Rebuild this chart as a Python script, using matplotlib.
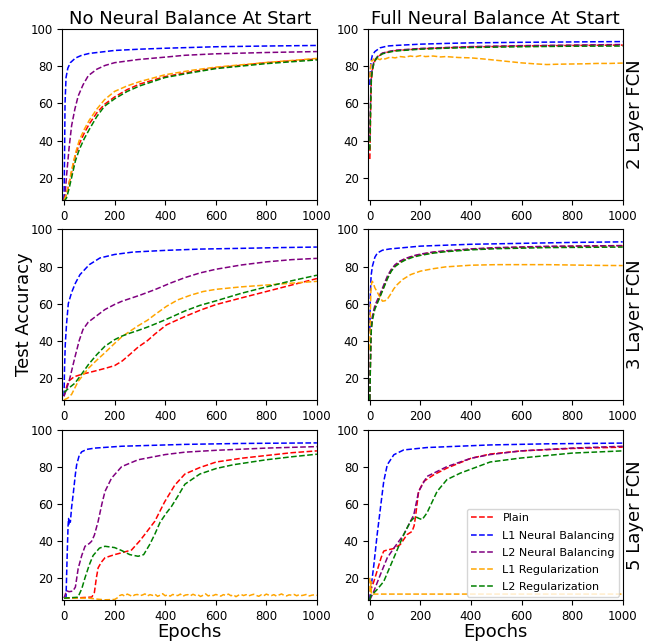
import numpy as np
import matplotlib
matplotlib.use("Agg")
import matplotlib.pyplot as plt

# series names / colours (same order in every panel)
labels = ["Plain", "L1 Neural Balancing", "L2 Neural Balancing",
          "L1 Regularization", "L2 Regularization"]
colors = ["red", "blue", "purple", "orange", "green"]

col_titles = ["No Neural Balance At Start", "Full Neural Balance At Start"]
row_titles = ["2 Layer FCN", "3 Layer FCN", "5 Layer FCN"]

# ---- 2 layer, no balance  (epoch, test accuracy)
a_plain = [(0, 8), (10, 11), (20, 17), (30, 23), (45, 32), (60, 38), (80, 44), (100, 49),
           (130, 55), (160, 59.5), (200, 63.5), (250, 67.5), (300, 70.5), (400, 74.5),
           (500, 77), (600, 79.2), (800, 82), (1000, 84)]
a_l1nb = [(0, 8), (2, 30), (4, 60), (8, 74), (15, 79), (25, 82), (45, 84.5), (70, 86),
          (100, 87), (200, 88.6), (300, 89.3), (400, 89.8), (600, 90.6), (800, 91), (1000, 91.3)]
a_l2nb = [(0, 8), (5, 12), (10, 21), (20, 36), (30, 48), (43, 57), (56, 64), (75, 70),
          (96, 75), (130, 78.5), (162, 80.5), (200, 82), (293, 83.7), (400, 85), (478, 86),
          (600, 86.8), (800, 87.5), (1000, 88)]
a_l1reg = [(0, 8), (10, 11), (20, 17), (30, 24), (45, 33), (60, 40), (80, 46), (100, 51),
           (130, 57), (160, 62), (200, 66.5), (250, 69.5), (300, 71.8), (400, 75.5),
           (500, 77.8), (600, 79.6), (800, 82.1), (1000, 84.3)]
a_l2reg = [(0, 7), (10, 9), (20, 14), (30, 20), (45, 29), (60, 35), (80, 41), (100, 46),
           (130, 53), (160, 58.5), (200, 62.5), (250, 66.5), (300, 69.5), (400, 74),
           (500, 76.5), (600, 78.8), (800, 81.5), (1000, 83.5)]

# ---- 2 layer, full balance
b_plain = [(0, 30), (2, 45), (4, 62), (6, 72), (10, 78), (15, 81), (20, 83), (30, 85),
           (50, 87), (80, 88), (100, 88.5), (200, 89.5), (300, 90), (400, 90.5), (600, 91),
           (800, 91.3), (1000, 91.5)]
b_l1nb = [(0, 70), (2, 78), (5, 83), (10, 86), (20, 88), (40, 90), (70, 91), (100, 91.3),
          (200, 92), (300, 92.4), (400, 92.7), (600, 93), (800, 93.2), (1000, 93.4)]
b_l2nb = [(0, 40), (2, 55), (4, 68), (6, 75), (10, 79), (15, 82), (20, 83.5), (30, 85.3),
          (50, 87.2), (80, 88.2), (100, 88.7), (200, 89.7), (300, 90.2), (400, 90.7),
          (600, 91.2), (800, 91.5), (1000, 91.8)]
b_l1reg = [(0, 74), (3, 80), (6, 83), (10, 83), (15, 84), (20, 83.3), (30, 84.2), (40, 83.6),
           (50, 84.5), (60, 84), (80, 85), (100, 84.6), (120, 85.3), (140, 85.0), (160, 85.6),
           (180, 85.2), (200, 85.8), (220, 85.3), (250, 85.6), (280, 85.1), (300, 85.3),
           (350, 84.8), (400, 84.6), (450, 84.0), (500, 83.3), (550, 82.6), (600, 81.9),
           (650, 81.4), (700, 81.0), (750, 81.2), (800, 81.3), (850, 81.4), (900, 81.6),
           (950, 81.6), (1000, 81.8)]
b_l2reg = [(0, 35), (2, 50), (4, 64), (6, 73), (10, 78), (15, 81), (20, 83), (30, 85),
           (50, 86.8), (80, 87.8), (100, 88.3), (200, 89.3), (300, 89.8), (400, 90.2),
           (600, 90.6), (800, 90.9), (1000, 91)]

# ---- 3 layer, no balance
c_plain = [(0, 10), (10, 15), (17, 18), (40, 20.5), (70, 21.8), (120, 23.5), (162, 25),
           (200, 26.5), (230, 29), (260, 32.5), (293, 36.5), (330, 40), (359, 43.5),
           (405, 48.5), (478, 53), (540, 56.5), (602, 59.5), (700, 63), (800, 66.5),
           (900, 70), (1000, 73.5)]
c_l1nb = [(0, 10), (2, 25), (5, 38), (10, 49), (17, 60), (30, 66), (45, 71), (63, 75.6),
          (100, 81), (142, 84.6), (200, 86.5), (273, 87.8), (400, 88.7), (537, 89.4),
          (700, 89.8), (850, 90.2), (1000, 90.5)]
c_l2nb = [(0, 10), (10, 14), (20, 18), (43, 31), (60, 40), (75, 46), (96, 50), (130, 53.5),
          (162, 56.8), (200, 59.5), (228, 61.2), (300, 64.5), (359, 67.5), (420, 71),
          (478, 74), (537, 76.5), (600, 78.5), (700, 80.8), (800, 82.5), (900, 83.7),
          (1000, 84.4)]
c_l1reg = [(0, 8), (15, 9), (30, 11), (56, 18), (96, 25), (130, 29.5), (162, 33.5),
           (200, 38.5), (228, 42), (260, 45), (293, 48), (330, 51), (359, 54), (405, 58.5),
           (450, 62), (500, 64.5), (550, 66.5), (602, 67.7), (700, 69), (800, 70), (900, 71),
           (1000, 72)]
c_l2reg = [(0, 12), (20, 14.5), (43, 17), (70, 22), (96, 27), (130, 32.5), (162, 37),
           (200, 40.5), (228, 42.4), (260, 44), (293, 45.5), (330, 47.3), (359, 48.9),
           (405, 51.5), (478, 56), (537, 59), (602, 61.5), (700, 65.5), (800, 69),
           (900, 72.3), (1000, 75.3)]

# ---- 3 layer, full balance
d_plain = [(0, 8), (2, 25), (4, 40), (6, 47), (10, 52), (20, 58), (40, 64), (55, 69),
           (70, 74), (85, 78), (100, 80.5), (120, 82.5), (140, 84), (170, 85.5), (200, 86.5),
           (250, 87.6), (300, 88.3), (400, 89.3), (500, 90), (700, 90.7), (1000, 91.2)]
d_l1nb = [(0, 45), (2, 65), (5, 75), (10, 80), (20, 85), (30, 87.3), (50, 88.8), (80, 89.5),
          (120, 90), (200, 91), (300, 91.5), (400, 92), (600, 92.5), (800, 93), (1000, 93.3)]
d_l2nb = [(0, 8), (2, 26), (4, 41), (6, 48), (10, 53), (20, 59), (40, 65), (55, 70),
          (70, 75), (85, 78.5), (100, 81), (120, 83), (140, 84.3), (170, 85.7), (200, 86.7),
          (250, 87.8), (300, 88.5), (400, 89.5), (500, 90.2), (700, 90.9), (1000, 91.3)]
d_l1reg = [(0, 35), (2, 55), (4, 66), (7, 71), (10, 72), (15, 70.5), (20, 68.5), (30, 66),
           (40, 63.5), (50, 61.3), (60, 61.5), (70, 62.5), (82, 65), (95, 68), (108, 70.2),
           (130, 73), (161, 75.6), (200, 77.5), (250, 78.8), (300, 79.8), (400, 80.7),
           (500, 81), (600, 81), (700, 81), (800, 80.8), (900, 80.6), (1000, 80.5)]
d_l2reg = [(0, 8), (2, 24), (4, 39), (6, 46), (10, 51), (20, 57), (40, 63.5), (55, 68.5),
           (70, 73.5), (85, 77.5), (100, 80), (120, 82), (140, 83.5), (170, 85), (200, 86),
           (250, 87.2), (300, 88), (400, 89), (500, 89.6), (700, 90.2), (1000, 90.5)]

# ---- 5 layer, no balance
e_plain = [(0, 9), (60, 9.2), (110, 9.6), (120, 12), (128, 20), (135, 25.4), (148, 28.5),
           (162, 30.8), (200, 32.5), (228, 33.5), (267, 35), (300, 40), (320, 43.5),
           (359, 50.5), (398, 61), (438, 70), (478, 76), (537, 79.5), (602, 82.5),
           (700, 84.5), (800, 86), (900, 87.5), (1000, 88.5)]
e_l1nb = [(0, 9), (8, 9.5), (12, 30), (16, 48), (18, 52), (20, 49), (22, 51), (25, 50),
          (30, 58), (37, 66), (45, 76), (50, 81), (60, 86), (70, 88), (90, 89.3), (122, 90),
          (228, 91), (478, 92), (700, 92.5), (1000, 92.8)]
e_l2nb = [(0, 9), (10, 13), (20, 12.5), (35, 12.8), (45, 15), (56, 25), (70, 32), (83, 37),
          (100, 38.5), (109, 39.7), (120, 43), (135, 50.5), (150, 60), (162, 66.6),
          (188, 73.8), (228, 80), (293, 83.7), (400, 86.5), (478, 87.8), (600, 88.8),
          (800, 90), (1000, 90.8)]
e_l1reg_start = [(0, 9), (50, 9), (100, 9), (130, 8.5), (160, 8.1), (200, 8.3), (215, 9.5)]
e_l1reg_noise = [10.4, 10.9, 10.1, 11.2, 10.6, 9.9, 10.8, 11.0, 10.3, 10.7, 11.3, 10.2, 10.9,
                 10.5, 11.1, 10.0, 10.6, 11.4, 10.3, 10.8, 10.1, 11.0, 10.6, 10.4, 11.2, 10.0,
                 10.7, 10.9, 10.3, 11.1, 10.5, 10.8, 9.9, 10.6, 11.3, 10.2, 10.7, 10.4, 11.0,
                 10.6, 10.1, 10.9, 10.5, 11.2, 10.3, 10.8, 9.8, 10.6, 11.0, 10.4, 10.9, 10.2,
                 10.7, 11.1, 10.5, 10.0, 10.8, 10.3, 11.2, 10.6, 10.4, 10.9, 10.1, 10.7, 11.3,
                 10.5, 10.2, 10.8, 10.6, 11.0, 10.3, 10.9, 10.4, 10.7, 11.1, 10.2, 10.6, 10.8,
                 10.5]
e_l2reg = [(0, 9), (55, 9.5), (70, 14), (83, 20), (100, 27), (115, 32), (140, 36), (162, 37),
           (200, 36.3), (228, 34.7), (260, 32.5), (293, 31.6), (315, 32.5), (339, 38),
           (359, 43.5), (380, 50), (405, 55), (425, 58.5), (450, 64), (478, 70.5), (537, 76),
           (602, 79), (669, 81), (800, 83.7), (900, 85.3), (1000, 86.7)]

# ---- 5 layer, full balance
f_plain = [(0, 8), (3, 13), (8, 15), (16, 18), (25, 22), (36, 27), (45, 31), (55, 34.4),
           (69, 35), (95, 35.8), (121, 38), (147, 43.3), (167, 45), (175, 48), (180, 52.3),
           (193, 66.6), (213, 72), (253, 75.6), (305, 79.2), (400, 84.5), (476, 86.8),
           (600, 88.5), (800, 89.8), (1000, 90.5)]
f_l1nb = [(0, 8), (3, 12.8), (16, 27), (29, 43.3), (42, 57.7), (55, 72), (69, 81), (95, 86.4),
          (134, 89), (226, 90.3), (476, 91.7), (700, 92.3), (1000, 92.7)]
f_l2nb = [(0, 8), (16, 12.8), (42, 21.8), (69, 30.8), (95, 36), (134, 43.3), (174, 54),
          (193, 66.6), (226, 74.7), (305, 80), (400, 84.5), (476, 86.5), (600, 88.5),
          (800, 90), (1000, 91)]
f_l1reg = [(0, 20), (2, 12), (4, 18), (6, 11), (10, 11.2), (100, 11.2), (1000, 11.2)]
f_l2reg = [(0, 8), (3, 10), (29, 13.7), (55, 18), (95, 30.8), (134, 43.3), (161, 50.5),
           (180, 53), (195, 52), (207, 51.4), (226, 55), (266, 66.6), (305, 73), (358, 76.5),
           (476, 82.5), (595, 84.6), (800, 87.3), (1000, 88.5)]

e_l1reg = e_l1reg_start + list(zip(range(220, 220 + 10 * len(e_l1reg_noise), 10), e_l1reg_noise))

panels = [[[a_plain, a_l1nb, a_l2nb, a_l1reg, a_l2reg],
           [b_plain, b_l1nb, b_l2nb, b_l1reg, b_l2reg]],
          [[c_plain, c_l1nb, c_l2nb, c_l1reg, c_l2reg],
           [d_plain, d_l1nb, d_l2nb, d_l1reg, d_l2reg]],
          [[e_plain, e_l1nb, e_l2nb, e_l1reg, e_l2reg],
           [f_plain, f_l1nb, f_l2nb, f_l1reg, f_l2reg]]]

fig, axes = plt.subplots(3, 2, figsize=(6.49, 6.42), dpi=100)
fig.subplots_adjust(left=0.0963, right=0.9595, bottom=0.0654, top=0.9543,
                    wspace=0.202, hspace=0.174)

for r in range(3):
    for c in range(2):
        ax = axes[r, c]
        for series, lab, col in zip(panels[r][c], labels, colors):
            x, y = zip(*series)
            ax.plot(x, y, linestyle="--", color=col, linewidth=1.1, label=lab)
        ax.set_xlim(-6, 1000)
        ax.set_ylim(8, 100)
        ax.set_xticks([0, 200, 400, 600, 800, 1000])
        ax.set_yticks([20, 40, 60, 80, 100])
        ax.tick_params(labelsize=8.5)
        if r == 0:
            ax.set_title(col_titles[c], fontsize=13, pad=4)
        if r == 2:
            ax.set_xlabel("Epochs", fontsize=13, labelpad=0)
        if c == 1:
            ax.text(1.012, 0.5, row_titles[r], transform=ax.transAxes, rotation=90,
                    va="center", ha="left", fontsize=13)

axes[1, 0].set_ylabel("Test Accuracy", fontsize=13, labelpad=-2)
axes[2, 1].legend(loc="lower right", fontsize=8, borderaxespad=0.3, labelspacing=0.65)

fig.savefig("out.png", dpi=100)
